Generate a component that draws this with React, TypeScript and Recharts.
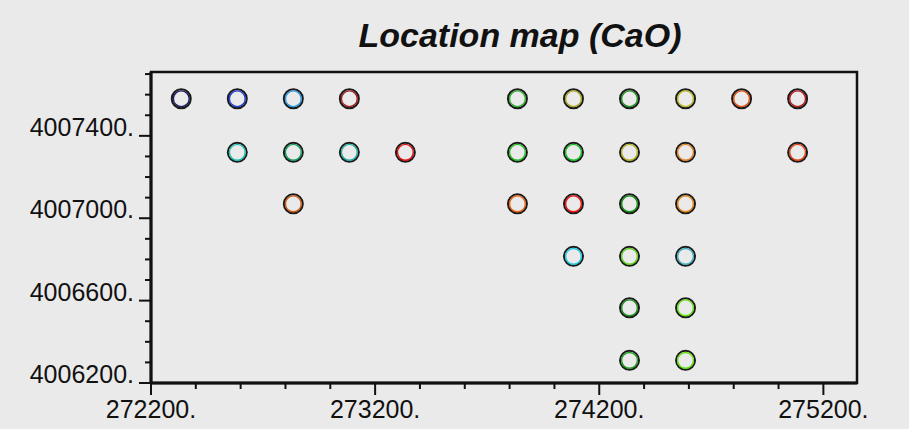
import React from 'react'
import { ScatterChart, Scatter, XAxis, YAxis, ReferenceArea } from 'recharts'

// sampling grid
const northings = [4007580, 4007320, 4007070, 4006815, 4006565, 4006310]

const rowEastings = [
  [272335, 272585, 272835, 273085, 273835, 274085, 274335, 274585, 274835, 275085],
  [272585, 272835, 273085, 273335, 273835, 274085, 274335, 274585, 275085],
  [272835, 273835, 274085, 274335, 274585],
  [274085, 274335, 274585],
  [274335, 274585],
  [274335, 274585]
]

// CaO colour class of each station
const rowColours = [
  ['#1c1c66', '#1f3fd6', '#2a9ae6', '#a82020', '#30b030', '#a8a820', '#209020', '#b8b820', '#e05010', '#c01818'],
  ['#20c0b0', '#10a060', '#20b0a0', '#e01010', '#20c020', '#10c020', '#b0b020', '#e08020', '#e04010'],
  ['#d05a18', '#f06010', '#f01010', '#109010', '#e08010'],
  ['#20c8e0', '#60d020', '#40b0c0'],
  ['#209020', '#60e010'],
  ['#20a020', '#60e010']
]

const xTicks = [272200, 272400, 272600, 272800, 273000, 273200, 273400, 273600, 273800, 274000, 274200, 274400, 274600, 274800, 275000, 275200]
const yTicks = [4006200, 4006300, 4006400, 4006500, 4006600, 4006700, 4006800, 4006900, 4007000, 4007100, 4007200, 4007300, 4007400, 4007500, 4007600, 4007700]

const xDomain = [272200, 275350]
const yDomain = [4006200, 4007710]

const stations = rowEastings.flatMap((row, r) =>
  row.map((e, i) => ({ x: e, y: northings[r], c: rowColours[r][i] }))
)

const font = '"Liberation Sans", Arial, sans-serif'

function XTick(props: any) {
  const { x, y, payload } = props
  const major = (payload.value - 272200) % 1000 === 0
  return (
    <g>
      <line x1={x} x2={x} y1={y} y2={y + (major ? 12 : 6)} stroke="#111" strokeWidth={2} />
      {major && (
        <text x={x} y={y + 35} textAnchor="middle" fontSize={25} fontFamily={font} fill="#111">
          {payload.value + '.'}
        </text>
      )}
    </g>
  )
}

function YTick(props: any) {
  const { x, y, payload } = props
  const major = (payload.value - 4006200) % 400 === 0
  return (
    <g>
      <line x1={x} x2={x - (major ? 12 : 6)} y1={y} y2={y} stroke="#111" strokeWidth={2} />
      {major && (
        <text x={x - 17} y={y} textAnchor="end" fontSize={25} fontFamily={font} fill="#111">
          {payload.value + '.'}
        </text>
      )}
    </g>
  )
}

function Ring(props: any) {
  const { cx, cy, payload } = props
  return (
    <g>
      <circle cx={cx} cy={cy} r={9.5} fill="none" stroke="#1a1a1a" strokeWidth={2} />
      <circle cx={cx} cy={cy} r={7.9} fill="none" stroke={payload.c} strokeWidth={1.4} />
    </g>
  )
}

export default function App() {
  return (
    <div style={{ position: 'absolute', top: 0, left: 0, width: 909, height: 429, background: '#eaeaea' }}>
      <div
        style={{
          position: 'absolute', left: 335, top: 18, width: 370, textAlign: 'center',
          fontFamily: font, fontSize: 34, lineHeight: '34px', fontWeight: 'bold', fontStyle: 'italic', color: '#111'
        }}
      >
        Location map (CaO)
      </div>
      <ScatterChart width={909} height={429} margin={{ top: 72, right: 52, bottom: 0, left: 0 }}>
        <XAxis
          type="number" dataKey="x" domain={xDomain} ticks={xTicks} interval={0} allowDataOverflow
          height={46} tickSize={0} tickMargin={0} tickLine={false}
          axisLine={{ stroke: '#111', strokeWidth: 3 }} tick={<XTick />}
        />
        <YAxis
          type="number" dataKey="y" domain={yDomain} ticks={yTicks} interval={0} allowDataOverflow
          width={151} tickSize={0} tickMargin={0} tickLine={false}
          axisLine={{ stroke: '#111', strokeWidth: 3 }} tick={<YTick />}
        />
        <ReferenceArea x1={xDomain[0]} x2={xDomain[1]} y1={yDomain[0]} y2={yDomain[1]} fill="none" stroke="#111" strokeWidth={2.5} />
        <Scatter data={stations} shape={<Ring />} isAnimationActive={false} />
      </ScatterChart>
    </div>
  )
}
